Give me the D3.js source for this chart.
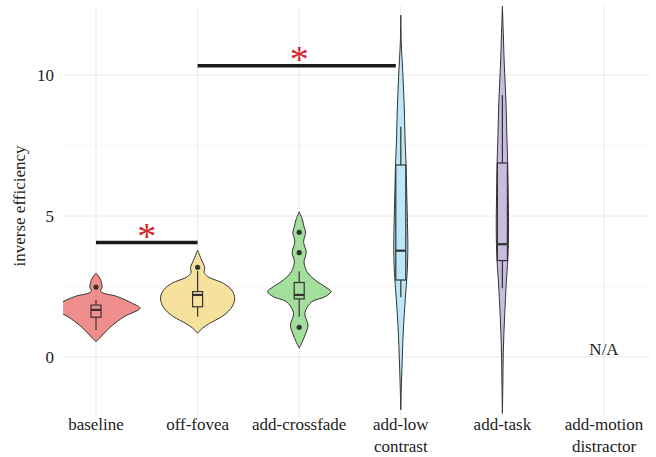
<!DOCTYPE html>
<html>
<head>
<meta charset="utf-8">
<script src="https://cdn.jsdelivr.net/npm/d3@7"></script>
</head>
<body style="margin:0; background:#fff">
<div id="chart"></div>
<script>
// categories shown on the x axis (second line after "|")
const categories = ['baseline', 'off-fovea', 'add-crossfade', 'add-low|contrast', 'add-task', 'add-motion|distractor'];
const fills = ['#F08D8D', '#F6E19D', '#A4DE9D', '#BAE8F7', '#C8BDE0'];

// violin outlines: [value, relative density]
const violinBaseline = [[2.97,0],[2.78,0.09],[2.49,0.14],[2.32,0.11],[2.14,0.49],[1.90,0.83],[1.73,1.0],[1.43,0.64],[1.08,0.34],[0.78,0.15],[0.54,0]];
const violinOffFovea = [[3.79,0],[3.44,0.09],[3.18,0.16],[3.0,0.15],[2.85,0.23],[2.61,0.59],[2.38,0.77],[2.14,0.84],[1.90,0.82],[1.67,0.73],[1.43,0.55],[1.19,0.27],[1.02,0.11],[0.84,0]];
const violinCrossfade = [[5.15,0],[4.86,0.075],[4.62,0.11],[4.42,0.145],[4.09,0.10],[3.70,0.16],[3.38,0.11],[3.03,0.175],[2.73,0.36],[2.49,0.59],[2.32,0.72],[2.14,0.59],[1.96,0.29],[1.67,0.15],[1.49,0.13],[1.13,0.2],[0.84,0.15],[0.54,0.07],[0.31,0]];
const violinLowContrast = [[12.13,0],[11.2,0.01],[9.94,0.05],[8.76,0.08],[7.59,0.1],[6.81,0.12],[5.5,0.14],[4.5,0.155],[3.8,0.16],[3.0,0.145],[2.02,0.1],[0.84,0.055],[0,0.035],[-0.93,0.015],[-1.88,0]];
const violinTask = [[12.45,0],[11.5,0.02],[10.3,0.045],[9.11,0.08],[7.93,0.1],[6.88,0.12],[5.5,0.135],[4.5,0.14],[3.5,0.125],[2.62,0.088],[1.43,0.05],[0.25,0.022],[-1,0.01],[-2.0,0]];
const violins = [violinBaseline, violinOffFovea, violinCrossfade, violinLowContrast, violinTask];

// box stats: [lower whisker, q1, median, q3, upper whisker]
const boxStats = [
  [0.96, 1.41, 1.67, 1.84, 2.02],
  [1.43, 1.78, 2.20, 2.32, 3.05],
  [1.43, 2.06, 2.20, 2.64, 3.03],
  [2.12, 2.73, 3.77, 6.81, 8.17],
  [2.44, 3.42, 4.00, 6.88, 9.29]
];
const outliers = [[2.48], [3.18], [4.42, 3.70, 1.05], [], []];

// significance brackets: [from index, to index, value]
const sigBars = [[0, 1, 4.06], [1, 3, 10.33]];
const yTicks = [0, 5, 10];
const yMinor = [2.5, 7.5];

const W = 656, H = 457;
const FONT = "'Liberation Serif'";
const svg = d3.select('#chart').append('svg').attr('width', W).attr('height', H);

const x = d3.scalePoint().domain(categories).range([96, 604]);
const y = d3.scaleLinear().domain([-2.13, 12.45]).range([417, 6]);
const wScale = d3.scaleLinear().domain([0, 1]).range([0, 44]);
const panel = { left: 63, right: 650, top: 6, bottom: 417 };

svg.append('clipPath').attr('id', 'clip')
  .append('rect').attr('x', panel.left).attr('y', panel.top)
  .attr('width', panel.right - panel.left).attr('height', panel.bottom - panel.top);

// grid
const grid = svg.append('g');
grid.selectAll('.minor').data(yMinor).join('line')
  .attr('x1', panel.left).attr('x2', panel.right)
  .attr('y1', d => y(d)).attr('y2', d => y(d))
  .attr('stroke', '#F2F2F2').attr('stroke-width', 0.8);
grid.selectAll('.major').data(yTicks).join('line')
  .attr('x1', panel.left).attr('x2', panel.right)
  .attr('y1', d => y(d)).attr('y2', d => y(d))
  .attr('stroke', '#E8E8E8').attr('stroke-width', 1);
grid.selectAll('.vx').data(categories).join('line')
  .attr('x1', d => x(d)).attr('x2', d => x(d))
  .attr('y1', panel.top).attr('y2', panel.bottom)
  .attr('stroke', '#E8E8E8').attr('stroke-width', 1);

// y tick labels
svg.selectAll('.ytick').data(yTicks).join('text')
  .attr('x', 54).attr('y', d => y(d)).attr('dy', '0.35em')
  .attr('text-anchor', 'end').attr('font-size', 17).attr('fill', '#222')
  .attr('font-family', FONT)
  .text(d => d);

svg.append('text')
  .attr('transform', `translate(25,${y(5) - 10}) rotate(-90)`)
  .attr('text-anchor', 'middle').attr('font-size', 17).attr('fill', '#222')
  .attr('font-family', FONT)
  .text('inverse efficiency');

// x labels
categories.forEach(c => {
  const t = svg.append('text').attr('text-anchor', 'middle').attr('font-size', 17)
    .attr('fill', '#222').attr('font-family', FONT);
  c.split('|').forEach((line, i) => {
    t.append('tspan').attr('x', x(c)).attr('y', 430 + i * 22).text(line);
  });
});

const plot = svg.append('g').attr('clip-path', 'url(#clip)');

violins.forEach((pts, i) => {
  const cx = x(categories[i]);
  const area = d3.area()
    .y(d => y(d[0]))
    .x0(d => cx - wScale(d[1]))
    .x1(d => cx + wScale(d[1]))
    .curve(d3.curveCatmullRom.alpha(0.5));
  plot.append('path').attr('d', area(pts))
    .attr('fill', fills[i]).attr('stroke', '#333').attr('stroke-width', 1);

  const [lo, q1, med, q3, hi] = boxStats[i];
  const bw = 5;
  const g = plot.append('g');
  g.append('line').attr('x1', cx).attr('x2', cx).attr('y1', y(hi)).attr('y2', y(q3))
    .attr('stroke', '#333').attr('stroke-width', 1.2);
  g.append('line').attr('x1', cx).attr('x2', cx).attr('y1', y(q1)).attr('y2', y(lo))
    .attr('stroke', '#333').attr('stroke-width', 1.2);
  g.append('rect').attr('x', cx - bw).attr('width', bw * 2)
    .attr('y', y(q3)).attr('height', y(q1) - y(q3))
    .attr('fill', fills[i]).attr('stroke', '#333').attr('stroke-width', 1.2);
  g.append('line').attr('x1', cx - bw).attr('x2', cx + bw).attr('y1', y(med)).attr('y2', y(med))
    .attr('stroke', '#333').attr('stroke-width', 2.2);

  plot.selectAll(null).data(outliers[i]).join('circle')
    .attr('cx', cx).attr('cy', d => y(d)).attr('r', 2.6).attr('fill', '#333');
});

// significance
sigBars.forEach(([a, b, v]) => {
  const x1 = x(categories[a]), x2 = x(categories[b]) - (b === 3 ? 5 : 0);
  svg.append('line').attr('x1', x1).attr('x2', x2).attr('y1', y(v)).attr('y2', y(v))
    .attr('stroke', '#1a1a1a').attr('stroke-width', 3.5);
  svg.append('text').attr('x', (x(categories[a]) + x(categories[b])) / 2)
    .attr('y', y(v) + 6).attr('text-anchor', 'middle')
    .attr('font-family', FONT)
    .attr('font-size', 38).attr('fill', '#D42A2F').text('*');
});

svg.append('text').attr('x', x(categories[5])).attr('y', 355)
  .attr('text-anchor', 'middle').attr('font-size', 17).attr('fill', '#222')
  .attr('font-family', FONT).text('N/A');
</script>
</body>
</html>
